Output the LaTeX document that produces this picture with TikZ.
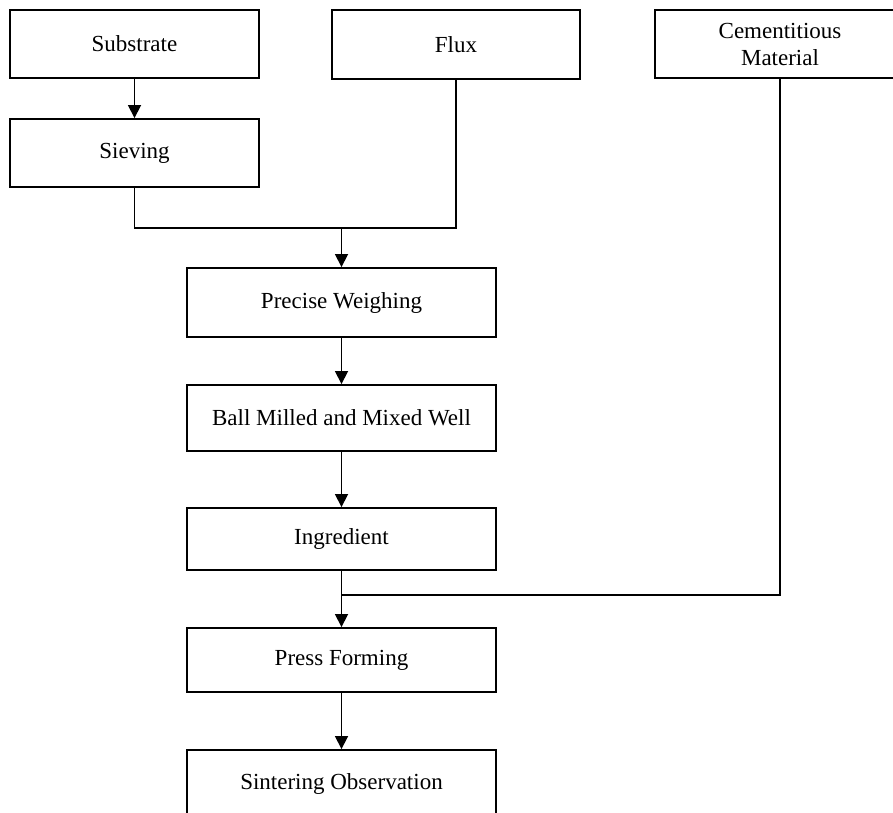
\documentclass[tikz,border=0pt]{standalone}
\usepackage{fontspec}
\setmainfont{Liberation Serif}
\usetikzlibrary{arrows.meta}
\begin{document}
\begin{tikzpicture}[x=1pt,y=-1pt,
  box/.style={draw, line width=1.9pt, rectangle, inner sep=0pt, align=center,
    font=\fontsize{23}{27}\selectfont},
  conn/.style={line width=1.7pt},
  arr/.style={line width=1.7pt, -{Triangle[length=13pt,width=13pt]}}]
\clip (0,0) rectangle (893,812);
\fill[white] (0,0) rectangle (893,812);
\node[box, minimum width=249pt, minimum height=68pt] (sub) at (134.5,44) {Substrate};
\node[box, minimum width=249pt, minimum height=68pt] (siev) at (134.5,153) {Sieving};
\node[box, minimum width=248pt, minimum height=69pt] (flux) at (456,44.5) {Flux};
\node[box, minimum width=250pt, minimum height=68pt] (cem) at (780,44) {\raisebox{-2pt}{Cementitious}\\\raisebox{-2pt}{Material}};
\node[box, minimum width=309pt, minimum height=69pt] (pw) at (341.5,302.5) {Precise Weighing};
\node[box, minimum width=309pt, minimum height=66pt] (bm) at (341.5,418) {Ball Milled and Mixed Well};
\node[box, minimum width=309pt, minimum height=62pt] (ing) at (341.5,539) {Ingredient};
\node[box, minimum width=309pt, minimum height=64pt] (pf) at (341.5,660) {Press Forming};
\node[box, minimum width=309pt, minimum height=68pt] (sint) at (341.5,784) {Sintering Observation};
\coordinate (j1) at (341.5,228);
\coordinate (j2) at (341.5,595);
\draw[arr] (sub.south) -- (siev.north);
\draw[conn] (siev.south) |- (j1) -| (flux.south);
\draw[arr] (j1) -- (pw.north);
\draw[arr] (pw.south) -- (bm.north);
\draw[arr] (bm.south) -- (ing.north);
\draw[conn] (ing.south) -- (j2);
\draw[conn] (cem.south) |- (j2);
\draw[arr] (j2) -- (pf.north);
\draw[arr] (pf.south) -- (sint.north);
\end{tikzpicture}
\end{document}
